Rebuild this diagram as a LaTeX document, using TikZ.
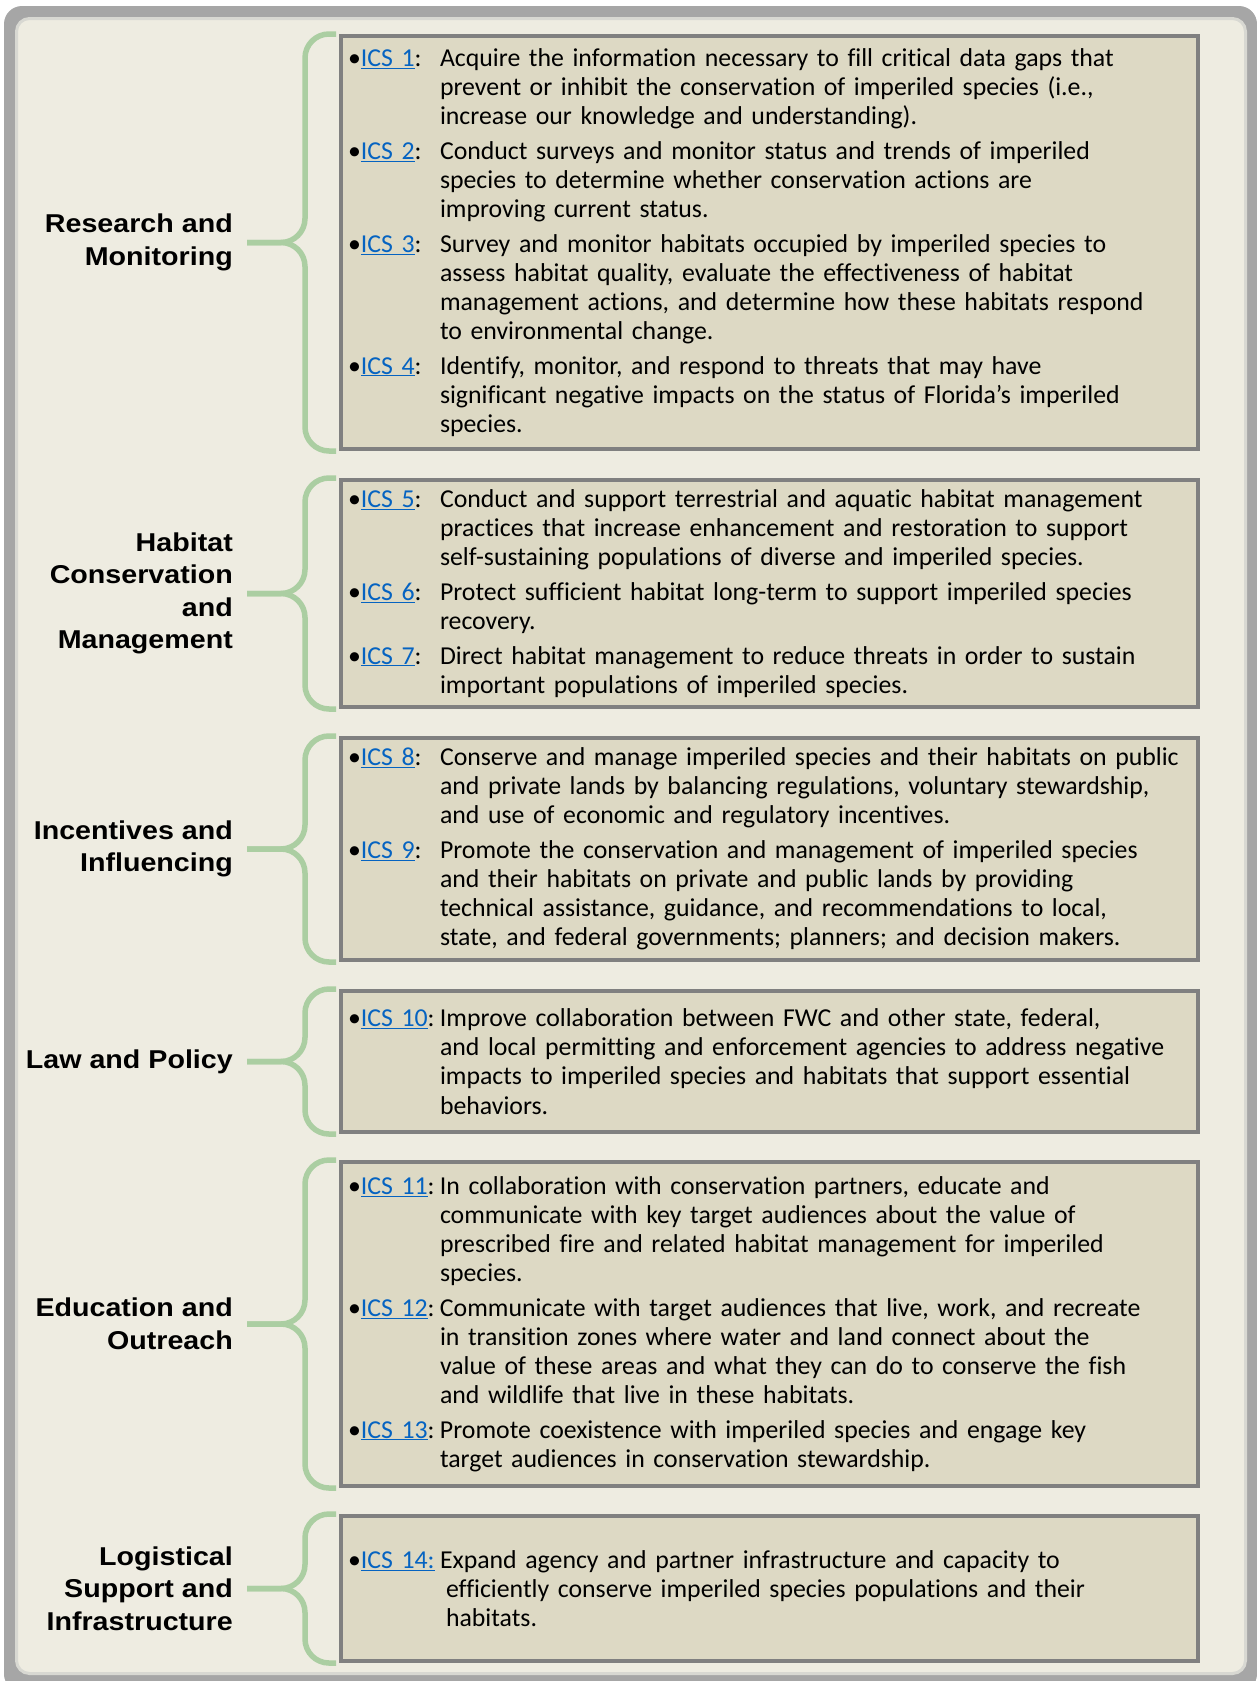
\documentclass[tikz,border=0pt]{standalone}
\usepackage{fontspec}
\setmainfont{Carlito}[Ligatures=NoCommon]
\newfontfamily\headfont{Liberation Sans}[FakeStretch=1.11]
\usetikzlibrary{positioning}

\definecolor{framegray}{HTML}{A6A6A6}
\definecolor{panel}{HTML}{EEECE1}
\definecolor{panelrim}{HTML}{D8D8D2}
\definecolor{boxfill}{HTML}{DDD9C4}
\definecolor{boxline}{HTML}{808080}
\definecolor{bracegreen}{HTML}{ABCEA2}
\definecolor{linkblue}{HTML}{0563C1}

\newlength\icshang
\setlength\icshang{92pt}
\newcommand\icsref[1]{{\color{linkblue}\underline{#1}}}
\newcommand\icsitem[2]{\hangindent=\icshang\hangafter=1\noindent
  \makebox[\icshang][l]{\textbullet\icsref{ICS #1}:}#2\par}

\tikzset{
  icsbox/.style={draw=boxline, fill=boxfill, line width=4pt, rectangle,
    minimum width=857pt, text width=843pt, inner xsep=7pt, inner ysep=0pt,
    font=\fontsize{25.8}{29.1}\selectfont,
    execute at begin node={\setlength\parskip{5.5pt}\raggedright\hbadness=10000}},
  grouplabel/.style={align=right, inner sep=0pt,
    font=\headfont\bfseries\fontsize{25.8}{32.5}\selectfont},
  brace/.style={draw=bracegreen, line width=5.5pt, rounded corners=24pt}
}

\begin{document}
\begin{tikzpicture}[x=1pt, y=-1pt]
  \useasboundingbox (0,0) rectangle (1257,1681);
  \clip (0,0) rectangle (1257,1681);

  % frame and panel
  \fill[framegray, rounded corners=18pt] (4,6) rectangle (1257,1692);
  \draw[panelrim, fill=panel, line width=3pt, rounded corners=13pt] (16.5,18.5) rectangle (1245.5,1673.5);

  % the six boxes of strategies
  \node[icsbox, minimum height=413pt, anchor=north west] (rm) at (339,34) {%
    \icsitem{1}{Acquire the information necessary to fill critical data gaps that\newline
      prevent or inhibit the conservation of imperiled species (i.e.,\newline
      increase our knowledge and understanding).}
    \icsitem{2}{Conduct surveys and monitor status and trends of imperiled\newline
      species to determine whether conservation actions are\newline
      improving current status.}
    \icsitem{3}{Survey and monitor habitats occupied by imperiled species to\newline
      assess habitat quality, evaluate the effectiveness of habitat\newline
      management actions, and determine how these habitats respond\newline
      to environmental change.}
    \icsitem{4}{Identify, monitor, and respond to threats that may have\newline
      significant negative impacts on the status of Florida’s imperiled\newline
      species.}};
  \node[icsbox, minimum height=227pt, below=27pt of rm] (hc) {%
    \icsitem{5}{Conduct and support terrestrial and aquatic habitat management\newline
      practices that increase enhancement and restoration to support\newline
      self-sustaining populations of diverse and imperiled species.}
    \icsitem{6}{Protect sufficient habitat long-term to support imperiled species\newline
      recovery.}
    \icsitem{7}{Direct habitat management to reduce threats in order to sustain\newline
      important populations of imperiled species.}};
  \node[icsbox, minimum height=222pt, below=27pt of hc] (ii) {%
    \icsitem{8}{Conserve and manage imperiled species and their habitats on public\newline
      and private lands by balancing regulations, voluntary stewardship,\newline
      and use of economic and regulatory incentives.}
    \icsitem{9}{Promote the conservation and management of imperiled species\newline
      and their habitats on private and public lands by providing\newline
      technical assistance, guidance, and recommendations to local,\newline
      state, and federal governments; planners; and decision makers.}};
  \node[icsbox, minimum height=141pt, below=27pt of ii] (lp) {%
    \icsitem{10}{Improve collaboration between FWC and other state, federal,\newline
      and local permitting and enforcement agencies to address negative\newline
      impacts to imperiled species and habitats that support essential\newline
      behaviors.}};
  \node[icsbox, minimum height=324pt, below=26pt of lp] (eo) {%
    \icsitem{11}{In collaboration with conservation partners, educate and\newline
      communicate with key target audiences about the value of\newline
      prescribed fire and related habitat management for imperiled\newline
      species.}
    \icsitem{12}{Communicate with target audiences that live, work, and recreate\newline
      in transition zones where water and land connect about the\newline
      value of these areas and what they can do to conserve the fish\newline
      and wildlife that live in these habitats.}
    \icsitem{13}{Promote coexistence with imperiled species and engage key\newline
      target audiences in conservation stewardship.}};
  \node[icsbox, minimum height=145pt, below=26pt of eo] (ls) {%
    \hangindent=98pt\hangafter=1\noindent
    \makebox[\icshang][l]{\textbullet\icsref{ICS 14:}}Expand agency and partner infrastructure and capacity to\newline
      efficiently conserve imperiled species populations and their\newline
      habitats.\par};

  % brace tips
  \coordinate[left=92pt of rm.west] (rmtip);
  \coordinate[left=92pt of hc.west] (hctip);
  \coordinate[left=92pt of ii.west] (iitip);
  \coordinate[left=92pt of lp.west] (lptip);
  \coordinate[left=92pt of eo.west] (eotip);
  \coordinate[left=92pt of ls.west] (lstip);

  % group names
  \node[grouplabel, left=14pt of rmtip] (rmlab) {Research and\\Monitoring};
  \node[grouplabel, left=14pt of hctip] (hclab) {Habitat\\Conservation\\and\\Management};
  \node[grouplabel, left=14pt of iitip] (iilab) {Incentives and\\Influencing};
  \node[grouplabel, left=14pt of lptip] (lplab) {Law and Policy};
  \node[grouplabel, left=14pt of eotip] (eolab) {Education and\\Outreach};
  \node[grouplabel, left=14pt of lstip] (lslab) {Logistical\\Support and\\Infrastructure};

  % braces
  \draw[brace] ([xshift=-3pt]rm.north west) -| ([xshift=-34pt]rm.west) -- (rmtip);
  \draw[brace] (rmtip) -- ([xshift=-34pt]rm.west) |- ([xshift=-3pt]rm.south west);
  \draw[brace] ([xshift=-3pt]hc.north west) -| ([xshift=-34pt]hc.west) -- (hctip);
  \draw[brace] (hctip) -- ([xshift=-34pt]hc.west) |- ([xshift=-3pt]hc.south west);
  \draw[brace] ([xshift=-3pt]ii.north west) -| ([xshift=-34pt]ii.west) -- (iitip);
  \draw[brace] (iitip) -- ([xshift=-34pt]ii.west) |- ([xshift=-3pt]ii.south west);
  \draw[brace] ([xshift=-3pt]lp.north west) -| ([xshift=-34pt]lp.west) -- (lptip);
  \draw[brace] (lptip) -- ([xshift=-34pt]lp.west) |- ([xshift=-3pt]lp.south west);
  \draw[brace] ([xshift=-3pt]eo.north west) -| ([xshift=-34pt]eo.west) -- (eotip);
  \draw[brace] (eotip) -- ([xshift=-34pt]eo.west) |- ([xshift=-3pt]eo.south west);
  \draw[brace] ([xshift=-3pt]ls.north west) -| ([xshift=-34pt]ls.west) -- (lstip);
  \draw[brace] (lstip) -- ([xshift=-34pt]ls.west) |- ([xshift=-3pt]ls.south west);
\end{tikzpicture}
\end{document}
